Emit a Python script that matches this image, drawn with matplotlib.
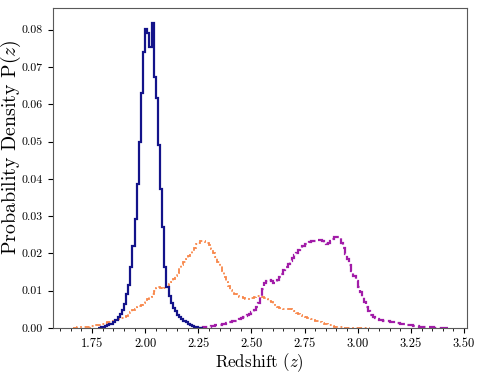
import numpy as np
import matplotlib
matplotlib.use("Agg")
import matplotlib.pyplot as plt
from matplotlib.ticker import MultipleLocator

plt.rcParams["font.family"] = "serif"
plt.rcParams["font.serif"] = ["cmr10", "DejaVu Serif"]
plt.rcParams["mathtext.fontset"] = "cm"
plt.rcParams["axes.formatter.use_mathtext"] = True

BIN_WIDTH = 0.01

# navy sample, bins start at 1.78
navy_start = 1.78
navy_density = [
    0.0001, 0.0002, 0.0004, 0.0006, 0.0008, 0.0010, 0.0012, 0.0016, 0.0022, 0.0030,
    0.0038, 0.0048, 0.0064, 0.0090, 0.0115, 0.0163, 0.0219, 0.0291, 0.0385, 0.0500,
    0.0631, 0.0739, 0.0801, 0.0790, 0.0754, 0.0818, 0.0674, 0.0618, 0.0492, 0.0372,
    0.0270, 0.0163, 0.0110, 0.0085, 0.0068, 0.0055, 0.0045, 0.0035, 0.0030, 0.0024,
    0.0020, 0.0016, 0.0012, 0.0008, 0.0005, 0.0003, 0.0002, 0.0001, 0.0001,
]

# orange sample, bins start at 1.66
orange_start = 1.66
orange_density = [
    0.0001, 0.0001, 0.0002, 0.0002, 0.0003, 0.0003, 0.0004, 0.0004, 0.0005, 0.0006,
    0.0007, 0.0008, 0.0009, 0.0011, 0.0012, 0.0014, 0.0015, 0.0017, 0.0019, 0.0020,
    0.0022, 0.0024, 0.0026, 0.0028, 0.0030, 0.0033, 0.0037, 0.0042, 0.0047, 0.0052,
    0.0056, 0.0060, 0.0063, 0.0067, 0.0072, 0.0078, 0.0084, 0.0091, 0.0099, 0.0106,
    0.0110, 0.0107, 0.0104, 0.0106, 0.0110, 0.0117, 0.0124, 0.0131, 0.0140, 0.0148,
    0.0160, 0.0168, 0.0176, 0.0184, 0.0192, 0.0199, 0.0206, 0.0215, 0.0224, 0.0229,
    0.0232, 0.0233, 0.0231, 0.0228, 0.0222, 0.0213, 0.0202, 0.0190, 0.0178, 0.0166,
    0.0152, 0.0138, 0.0124, 0.0112, 0.0103, 0.0096, 0.0091, 0.0087, 0.0084, 0.0082,
    0.0080, 0.0079, 0.0078, 0.0079, 0.0081, 0.0083, 0.0085, 0.0086, 0.0085, 0.0083,
    0.0080, 0.0077, 0.0073, 0.0069, 0.0064, 0.0060, 0.0057, 0.0055, 0.0053, 0.0052,
    0.0051, 0.0051, 0.0050, 0.0048, 0.0045, 0.0041, 0.0037, 0.0035, 0.0032, 0.0030,
    0.0028, 0.0026, 0.0024, 0.0022, 0.0020, 0.0018, 0.0016, 0.0014, 0.0012, 0.0011,
    0.0009, 0.0007, 0.0005, 0.0004, 0.0003, 0.0002, 0.0002, 0.0001, 0.0001, 0.0001,
    0.0001, 0.0001, 0.0001, 0.0001, 0.0001, 0.0001, 0.0001, 0.0001, 0.0000, 0.0000,
]

# purple sample, bins start at 2.26
purple_start = 2.26
purple_density = [
    0.0001, 0.0002, 0.0002, 0.0003, 0.0004, 0.0005, 0.0006, 0.0007, 0.0008, 0.0009,
    0.0010, 0.0012, 0.0014, 0.0015, 0.0017, 0.0018, 0.0020, 0.0022, 0.0024, 0.0026,
    0.0029, 0.0032, 0.0035, 0.0038, 0.0043, 0.0049, 0.0056, 0.0068, 0.0085, 0.0105,
    0.0120, 0.0126, 0.0128, 0.0125, 0.0122, 0.0124, 0.0130, 0.0138, 0.0146, 0.0155,
    0.0164, 0.0172, 0.0180, 0.0188, 0.0195, 0.0201, 0.0208, 0.0214, 0.0220, 0.0225,
    0.0228, 0.0230, 0.0232, 0.0233, 0.0234, 0.0235, 0.0236, 0.0234, 0.0228, 0.0225,
    0.0227, 0.0232, 0.0238, 0.0243, 0.0245, 0.0240, 0.0229, 0.0215, 0.0198, 0.0184,
    0.0168, 0.0154, 0.0140, 0.0126, 0.0110, 0.0096, 0.0082, 0.0069, 0.0056, 0.0045,
    0.0036, 0.0030, 0.0027, 0.0024, 0.0022, 0.0021, 0.0020, 0.0019, 0.0018, 0.0017,
    0.0016, 0.0015, 0.0014, 0.0013, 0.0012, 0.0011, 0.0010, 0.0009, 0.0008, 0.0007,
    0.0006, 0.0006, 0.0005, 0.0004, 0.0004, 0.0003, 0.0003, 0.0002, 0.0002, 0.0002,
    0.0001, 0.0001, 0.0001, 0.0001, 0.0001, 0.0001, 0.0001,
]


def bin_edges(start, values):
    return np.round(start + BIN_WIDTH * np.arange(len(values) + 1), 4)


fig = plt.figure(figsize=(4.81, 3.73), dpi=100)
ax = fig.add_axes([0.1096, 0.1206, 0.8604, 0.858])

ax.stairs(orange_density, bin_edges(orange_start, orange_density),
          color="#f8874a", lw=1.3, ls=(0, (3, 1.5, 1, 1.5)))
ax.stairs(purple_density, bin_edges(purple_start, purple_density),
          color="#a21ca8", lw=1.6, ls="--")
ax.stairs(navy_density, bin_edges(navy_start, navy_density),
          color="#13138a", lw=1.6)

ax.set_xlim(1.565, 3.512)
ax.set_ylim(0, 0.0858)
ax.xaxis.set_major_locator(MultipleLocator(0.25))
ax.xaxis.set_minor_locator(MultipleLocator(0.05))
ax.yaxis.set_major_locator(MultipleLocator(0.01))
ax.xaxis.set_major_formatter(plt.FormatStrFormatter("%.2f"))
ax.yaxis.set_major_formatter(plt.FormatStrFormatter("%.2f"))
ax.tick_params(axis="x", labelsize=9)
ax.tick_params(axis="y", labelsize=8.5)
for side in ax.spines.values():
    side.set_color("0.35")

ax.set_xlabel("Redshift ($z$)", fontsize=12.2, labelpad=1)
ax.set_ylabel("Probability Density P($z$)", fontsize=14.3)
ax.yaxis.set_label_coords(-0.073, 0.564)

fig.savefig("out.png", dpi=100)
